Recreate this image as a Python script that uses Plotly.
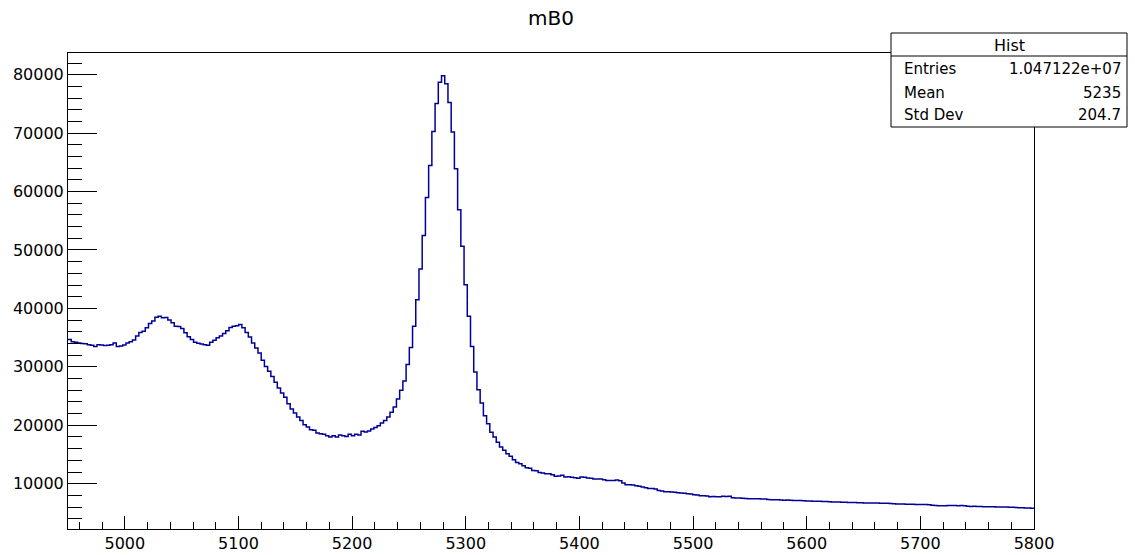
import numpy as np
import plotly.graph_objects as go

# ---- data ----
x_min, x_max = 4950.0, 5800.0
counts = [
    # 4950 - ~5109
    34700, 34300, 34200, 34100, 34000, 33950, 33800, 33700, 33500, 33800,
    33750, 33650, 33700, 33800, 34100, 33500, 33550, 33750, 34100, 34300,
    34600, 35300, 35900, 36100, 36700, 37400, 37850, 38500, 38650, 38400,
    38450, 38000, 37550, 36950, 36900, 36550, 35850, 35150, 34700, 34200,
    34050, 33900, 33800, 33700, 34200, 34550, 35000, 35300, 35700, 36200,
    36750, 36950, 37050, 37250, 36700, 35900,
    # falling edge and valley
    35100, 34080, 33220, 32370, 31110, 30080, 29230, 28370, 27345, 26380,
    25520, 24780, 23690, 22780, 22100, 21410, 20840, 20100, 19700, 19240,
    19130, 18670, 18560, 18450, 18220, 18000, 18220, 18000, 18330, 18220,
    18100, 18450, 18220, 18450, 18330, 18960, 18850, 19020, 19360, 19640,
    19930, 20390, 20840, 21410, 22210, 23120,
    # peak
    24500, 26000, 27600, 30400, 33300, 36930, 41490, 46740, 52500, 59000,
    64480, 70300, 75090, 78690, 79830, 78460, 75260, 70190, 63910, 56900,
    50620, 44060, 38640, 33500, 29110, 26090,
    # right tail
    23800, 21640, 20270, 18790, 17990, 17080, 16280, 15710, 15140, 14680,
    14110, 13650, 13420, 13080, 12740, 12630, 12280, 12230, 11940, 11830,
    11710, 11710, 11540, 11260, 11310, 11430, 11140, 11200, 11090, 11030,
    10920, 11140, 11090, 10970, 10920, 10800, 10800, 10800, 10690, 10570,
    10570, 10570, 10630, 10520, 10120, 9830, 9830, 9780, 9660, 9550,
    9430, 9320, 9200, 9200, 9090, 8860, 8750, 8630, 8630, 8580,
    8520, 8460, 8410, 8350, 8290, 8240, 8120, 8060, 7950, 7950,
    7890, 7780, 7830, 7780, 7750,
    7835, 7830, 7835, 7600, 7550, 7550, 7500, 7480, 7440, 7440,
    7420, 7440, 7400, 7380, 7300, 7270, 7260, 7250, 7200, 7180,
    7200, 7150, 7140, 7120, 7130, 7100, 7040, 7050, 7000, 7020,
    6980, 6960, 6970, 6920, 6880, 6860, 6870, 6830, 6810, 6800,
    6780, 6790, 6760, 6740, 6720, 6700, 6710, 6690, 6680, 6660,
    6670, 6640, 6620, 6560, 6540, 6520, 6540, 6500, 6490, 6470,
    6460, 6450, 6430, 6440, 6400, 6300, 6260, 6240, 6250, 6230,
    6290, 6280, 6260, 6250, 6270, 6240, 6130, 6120, 6140, 6100,
    6080, 6060, 6070, 6050, 6060, 6030, 6010, 6000, 6010, 5990,
    5960, 5920, 5900, 5880, 5860, 5830, 5800,
]
y_tick_vals = [10000, 20000, 30000, 40000, 50000, 60000, 70000, 80000]
x_tick_vals = [5000, 5100, 5200, 5300, 5400, 5500, 5600, 5700, 5800]
title_text = "mB0"
stats_name = "Hist"
stats_labels = ["Entries", "Mean", "Std Dev"]
stats_values = ["1.047122e+07", "5235", "204.7"]

# ---- build step outline ----
edges = np.linspace(x_min, x_max, len(counts) + 1)
xs = list(edges)
ys = list(counts) + [counts[-1]]

W, H = 1135, 555
L, R, T, B = 68, 101, 53, 26
pw, ph = W - L - R, H - T - B

def px_x(p):
    return (p - L) / pw

def px_y(p):
    return (H - B - p) / ph

FONT = "DejaVu Sans"

fig = go.Figure()
fig.add_trace(go.Scatter(
    x=xs, y=ys, mode="lines", line=dict(shape="hv", color="#000099", width=1.5),
    hoverinfo="skip", showlegend=False,
))

fig.update_layout(
    width=W, height=H,
    margin=dict(l=L, r=R, t=T, b=B, pad=0, autoexpand=False),
    paper_bgcolor="white", plot_bgcolor="white",
    font=dict(family=FONT, color="black", size=16),
    showlegend=False,
)

fig.update_xaxes(
    range=[x_min, x_max], showgrid=False, zeroline=False, automargin=False,
    showline=True, linecolor="black", linewidth=1, mirror=True,
    ticks="inside", ticklen=13, tickwidth=1, tickcolor="black",
    tickvals=x_tick_vals, ticktext=[str(v) for v in x_tick_vals],
    tickfont=dict(family=FONT, size=16, color="black"),
    minor=dict(dtick=20, tick0=5000, ticks="inside", ticklen=7, tickwidth=1,
               tickcolor="black", showgrid=False),
)
fig.update_yaxes(
    range=[2250, 83714], showgrid=False, zeroline=False, automargin=False,
    showline=True, linecolor="black", linewidth=1, mirror=True,
    ticks="inside", ticklen=29, tickwidth=1, tickcolor="black",
    tickvals=y_tick_vals, ticktext=[str(v) for v in y_tick_vals],
    tickfont=dict(family=FONT, size=16, color="black"),
    minor=dict(dtick=2000, tick0=0, ticks="inside", ticklen=14, tickwidth=1,
               tickcolor="black", showgrid=False),
)

# title
fig.add_annotation(text=title_text, xref="paper", yref="paper",
                   x=0.5, y=px_y(18), xanchor="center", yanchor="middle",
                   showarrow=False, font=dict(family=FONT, size=20, color="black"))

# stats box
bx0, bx1, by0, by1, hy = 891, 1127, 33, 127, 56
fig.add_shape(type="rect", xref="paper", yref="paper",
              x0=px_x(bx0), x1=px_x(bx1), y0=px_y(by1), y1=px_y(by0),
              line=dict(color="black", width=1), fillcolor="white", layer="above")
fig.add_shape(type="line", xref="paper", yref="paper",
              x0=px_x(bx0), x1=px_x(bx1), y0=px_y(hy), y1=px_y(hy),
              line=dict(color="black", width=1), layer="above")
fig.add_annotation(text=stats_name, xref="paper", yref="paper",
                   x=px_x((bx0 + bx1) / 2), y=px_y(45.5), xanchor="center", yanchor="middle",
                   showarrow=False, font=dict(family=FONT, size=16, color="black"))
row_y = [69, 92.5, 115.5]
for lab, val, ry in zip(stats_labels, stats_values, row_y):
    fig.add_annotation(text=lab, xref="paper", yref="paper",
                       x=px_x(902), y=px_y(ry), xanchor="left", yanchor="middle",
                       showarrow=False, font=dict(family=FONT, size=15, color="black"))
    fig.add_annotation(text=val, xref="paper", yref="paper",
                       x=px_x(1123), y=px_y(ry), xanchor="right", yanchor="middle",
                       showarrow=False, font=dict(family=FONT, size=15, color="black"))

fig.write_html("out.html")
